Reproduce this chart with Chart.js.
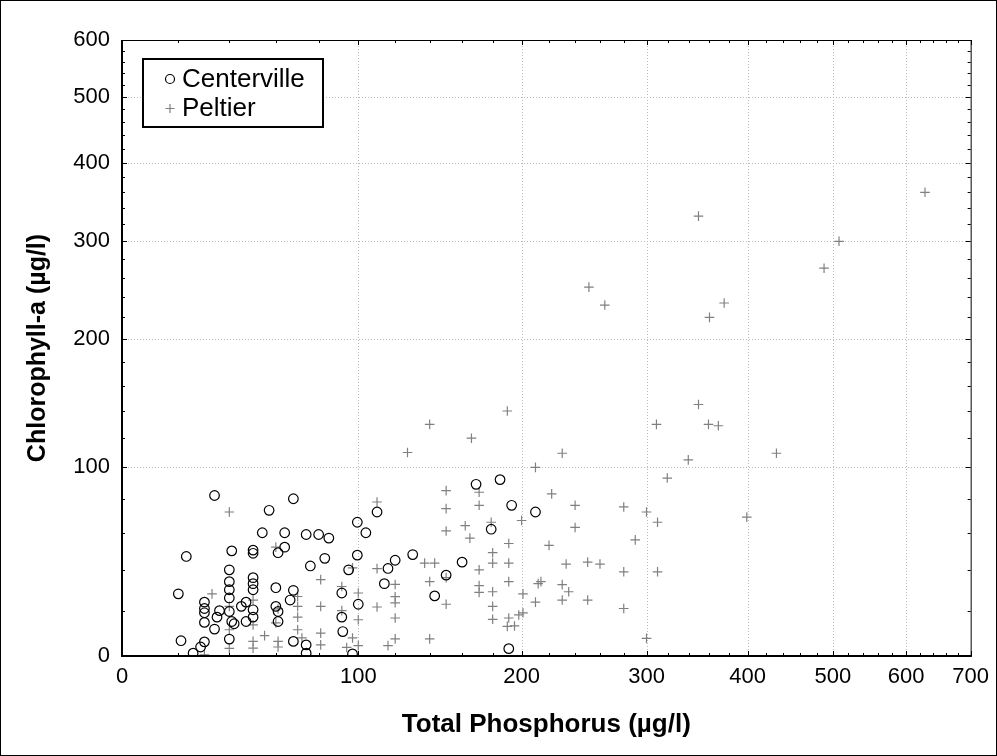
<!DOCTYPE html>
<html>
<head>
<meta charset="utf-8">
<script src="https://cdn.jsdelivr.net/npm/chart.js@4.4.1/dist/chart.umd.min.js"></script>
<style>
  html, body { margin: 0; padding: 0; background: #fff; }
  #wrap { width: 997px; height: 756px; position: relative; }
</style>
</head>
<body>
<div id="wrap"><canvas id="chart"></canvas></div>
<script>
// axis ticks
const xMajorTicks = [0, 100, 200, 300, 400, 500, 600, 700];
const xMinorTicks = [20, 40, 60, 80, 120, 140, 160, 180, 220, 240, 260, 280, 320, 340, 360, 380,
    420, 440, 460, 480, 520, 540, 560, 580, 620, 640, 660, 680];
const yMajorTicks = [0, 100, 200, 300, 400, 500, 600];
const yMinorTicks = [20, 40, 60, 80, 120, 140, 160, 180, 220, 240, 260, 280, 320, 340, 360, 380,
    420, 440, 460, 480, 520, 540, 560, 580];

// Centerville: total phosphorus / chlorophyll-a (µg/l)
const centervilleTP = [34, 23, 41, 20, 40, 40, 40, 40, 30, 30, 30, 30, 34, 36, 35, 40, 41, 42, 45, 47,
    47, 21, 30, 28.5, 25.6, 40, 68, 57, 54, 64, 74, 80, 85, 99.5, 50, 50, 61, 64, 83, 76,
    99.5, 50, 50, 50, 50, 50, 60, 60, 61, 61, 68, 66.5, 68, 74, 74, 95, 91.5, 91.5, 92, 97,
    100, 104, 110, 114, 116, 120, 130, 143, 150, 160, 169, 185, 193, 179, 210, 191];
const centervilleChl = [82, 47, 50, 28, 40, 34, 30, 26, 24, 21, 19, 14.6, 11.6, 20, 17, 19.6, 15, 14, 22, 24,
    15, 6.5, 6, 3.8, 1.2, 7.2, 80, 73, 60, 60, 59, 59, 57, 66, 50.4, 48.7, 49, 52, 46, 42,
    47.7, 36, 33, 30, 20.4, 17, 31, 22, 19.6, 15, 29.7, 25, 6.2, 4.7, 1.2, 40, 28.4, 17, 10.5, 0.9,
    23, 60, 72, 33, 40.7, 45, 48, 27, 37.3, 44, 89, 92, 76, 62, 72, 3.1];

// Peltier
const peltierTP = [628, 349, 508, 489, 251, 264, 375, 360, 349, 309, 359, 369, 230, 432, 339, 319, 190, 140, 166,
    240, 280, 300, 399, 310, 240, 290, 233, 250, 260, 280, 310, 230, 235, 230, 250, 280, 300, 220,
    127, 210, 222, 150, 171, 171, 150, 110, 162, 165, 150, 179, 200,
    97, 110, 137, 143, 180, 180, 191, 191, 171, 120, 140, 150, 191, 171, 171, 180, 201, 212, 214, 210,
    120, 120, 120, 110, 150, 180, 180, 191, 190, 195, 198, 201, 116, 120, 140, 100, 100, 91.5, 91.5, 97, 94, 100,
    40, 60, 33, 81, 50, 50, 40, 70, 70, 61, 81, 55, 50, 50, 61, 61, 70, 72, 81, 81, 40, 40, 30, 60, 70];
const peltierChl = [360, 330, 300, 270, 250, 232, 234, 220, 145, 130, 130, 129, 109.5, 109.5, 105, 93, 140, 130, 120,
    76, 75, 72, 69, 66, 63, 56, 43, 44, 43, 39, 39, 32.5, 29, 25, 25, 21, 7.5, 53,
    110, 100, 83, 85, 84, 76, 74, 78, 64, 57, 61, 66, 67,
    41, 40.6, 43.5, 43.5, 49, 43.5, 43.5, 54, 40, 32.6, 34, 36, 34, 32, 28.7, 29, 28, 33, 34, 24,
    26.6, 23.7, 16.6, 21.7, 23, 22, 16, 16.6, 12.8, 13, 18, 19, 4.4, 7.3, 7.3, 28.4, 15.8, 31.6, 20, 7.7, 3.6, 4.4,
    72, 52, 28, 35, 25, 13.5, 22, 26.7, 22, 20.8, 22, 8.7, 6.2, 3.3, 6.2, 3.8, 11.3, 7.7, 9.8, 4.7, 11.3, 3.2, 0.5, 14.4, 17];

const X_SHIFT = 180;
const Y_SHIFT = 170;

// log(v + c) axis, like the compressed axes of the original plot
class ShiftedLogScale extends Chart.LinearScale {
    static id = 'shiftedLog';
    static defaults = {};

    determineDataLimits() {
        this.min = this.options.min;
        this.max = this.options.max;
    }

    buildTicks() {
        const vals = this.axis === 'x' ? xMajorTicks : yMajorTicks;
        return vals.map(v => ({ value: v }));
    }

    configure() {
        super.configure();
        this._shift = this.axis === 'x' ? X_SHIFT : Y_SHIFT;
        this._tStart = Math.log(this.min + this._shift);
        this._tRange = Math.log(this.max + this._shift) - this._tStart;
    }

    getPixelForValue(value) {
        if (value === null || isNaN(value)) return NaN;
        return this.getPixelForDecimal((Math.log(value + this._shift) - this._tStart) / this._tRange);
    }

    getValueForPixel(pixel) {
        return Math.exp(this._tStart + this.getDecimalForPixel(pixel) * this._tRange) - this._shift;
    }
}
Chart.register(ShiftedLogScale);

const toPoints = (xs, ys) => xs.map((x, i) => ({ x: x, y: ys[i] }));

const FONT = '"Liberation Sans", Arial, sans-serif';
const GRAY = '#808080';

// grid, frame, ticks and legend
const decorPlugin = {
    id: 'decor',
    beforeDatasetsDraw(chart) {
        const { ctx, chartArea: a, scales: { x, y } } = chart;
        ctx.save();
        ctx.strokeStyle = '#bcbcbc';
        ctx.lineWidth = 1;
        ctx.setLineDash([1, 2]);
        xMajorTicks.slice(1, -1).forEach(v => {
            const px = Math.round(x.getPixelForValue(v)) + 0.5;
            ctx.beginPath(); ctx.moveTo(px, a.top); ctx.lineTo(px, a.bottom); ctx.stroke();
        });
        yMajorTicks.slice(1, -1).forEach(v => {
            const py = Math.round(y.getPixelForValue(v)) + 0.5;
            ctx.beginPath(); ctx.moveTo(a.left, py); ctx.lineTo(a.right, py); ctx.stroke();
        });
        ctx.restore();
    },
    afterDatasetsDraw(chart) {
        const { ctx, chartArea: a, scales: { x, y } } = chart;
        ctx.save();
        ctx.strokeStyle = '#000';
        // frame
        ctx.lineWidth = 1;
        ctx.strokeRect(a.left + 0.5, a.top + 0.5, a.right - a.left, a.bottom - a.top);
        ctx.lineWidth = 2;
        ctx.beginPath();
        ctx.moveTo(a.left, a.top); ctx.lineTo(a.left, a.bottom); ctx.lineTo(a.right + 1, a.bottom);
        ctx.stroke();
        // inward tick marks on all four sides
        ctx.lineWidth = 1;
        const tickX = (v, len) => {
            const px = Math.round(x.getPixelForValue(v)) + 0.5;
            ctx.beginPath();
            ctx.moveTo(px, a.bottom); ctx.lineTo(px, a.bottom - len);
            ctx.moveTo(px, a.top); ctx.lineTo(px, a.top + len);
            ctx.stroke();
        };
        const tickY = (v, len) => {
            const py = Math.round(y.getPixelForValue(v)) + 0.5;
            ctx.beginPath();
            ctx.moveTo(a.left, py); ctx.lineTo(a.left + len, py);
            ctx.moveTo(a.right, py); ctx.lineTo(a.right - len, py);
            ctx.stroke();
        };
        xMajorTicks.forEach(v => tickX(v, 5));
        xMinorTicks.forEach(v => tickX(v, 3));
        yMajorTicks.forEach(v => tickY(v, 5));
        yMinorTicks.forEach(v => tickY(v, 3));
        ctx.restore();
    },
    afterDraw(chart) {
        const { ctx } = chart;
        ctx.save();
        // outer border of the picture
        ctx.strokeStyle = '#000';
        ctx.lineWidth = 1;
        ctx.strokeRect(0.5, 0.5, chart.width - 1, chart.height - 1);
        // legend
        const bx = 143, by = 59, bw = 180, bh = 68;
        ctx.fillStyle = '#fff';
        ctx.fillRect(bx, by, bw, bh);
        ctx.lineWidth = 2;
        ctx.strokeRect(bx, by, bw, bh);
        ctx.lineWidth = 1.2;
        ctx.beginPath();
        ctx.arc(170, 79, 4.5, 0, Math.PI * 2);
        ctx.stroke();
        ctx.strokeStyle = GRAY;
        ctx.beginPath();
        ctx.moveTo(165.5, 108.5); ctx.lineTo(174.5, 108.5);
        ctx.moveTo(170, 104); ctx.lineTo(170, 113);
        ctx.stroke();
        ctx.fillStyle = '#000';
        ctx.font = '26px ' + FONT;
        ctx.textBaseline = 'middle';
        ctx.fillText('Centerville', 182, 80);
        ctx.fillText('Peltier', 182, 109);
        ctx.restore();
    }
};

new Chart(document.getElementById('chart'), {
    type: 'scatter',
    data: {
        datasets: [
            {
                label: 'Centerville',
                data: toPoints(centervilleTP, centervilleChl),
                pointStyle: 'circle',
                pointRadius: 4.8,
                borderWidth: 1.2,
                borderColor: '#000',
                backgroundColor: 'rgba(0,0,0,0)'
            },
            {
                label: 'Peltier',
                data: toPoints(peltierTP, peltierChl),
                pointStyle: 'cross',
                pointRadius: 4.8,
                borderWidth: 1.2,
                borderColor: GRAY,
                backgroundColor: GRAY
            }
        ]
    },
    options: {
        responsive: true,
        maintainAspectRatio: false,
        animation: false,
        layout: { padding: { left: 10, right: 22, top: 40, bottom: 10 } },
        plugins: {
            legend: { display: false },
            tooltip: { enabled: false }
        },
        scales: {
            x: {
                type: 'shiftedLog',
                min: 0,
                max: 700,
                grid: { display: false, drawTicks: false },
                border: { display: false },
                ticks: {
                    autoSkip: false,
                    maxRotation: 0,
                    padding: 8,
                    color: '#000',
                    font: { family: FONT, size: 22 },
                    callback: v => String(v)
                },
                title: {
                    display: true,
                    text: 'Total Phosphorus (µg/l)',
                    color: '#000',
                    font: { family: FONT, size: 26, weight: 'bold' },
                    padding: { top: 0, bottom: 6 }
                },
                afterFit: s => { s.height = 90; }
            },
            y: {
                type: 'shiftedLog',
                min: 0,
                max: 600,
                grid: { display: false, drawTicks: false },
                border: { display: false },
                ticks: {
                    autoSkip: false,
                    padding: 12,
                    color: '#000',
                    font: { family: FONT, size: 22 },
                    callback: v => String(v)
                },
                title: {
                    display: true,
                    text: 'Chlorophyll-a (µg/l)',
                    color: '#000',
                    font: { family: FONT, size: 25, weight: 'bold' },
                    padding: { top: 13, bottom: 0 }
                },
                afterFit: s => { s.width = 112; }
            }
        }
    },
    plugins: [decorPlugin]
});
</script>
</body>
</html>
